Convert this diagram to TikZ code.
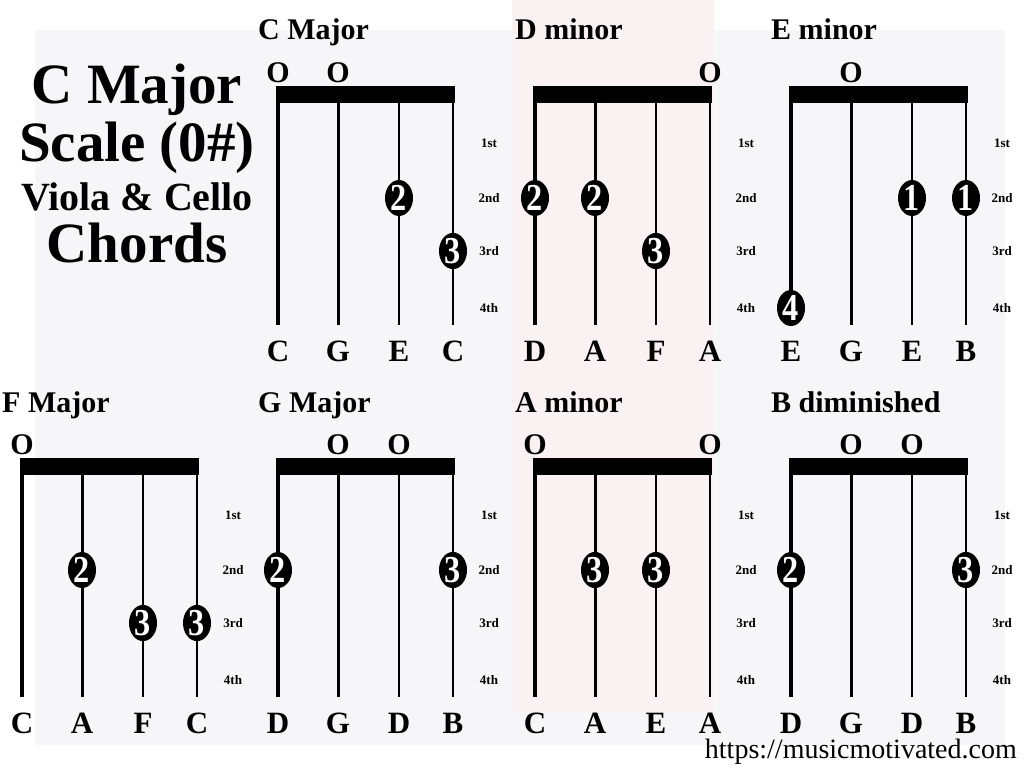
\documentclass[tikz,border=0pt]{standalone}
\usepackage{fontspec}
\setmainfont{Liberation Serif}
\usetikzlibrary{shapes.geometric}
\definecolor{wmgray}{RGB}{246,246,248}
\definecolor{wmpink}{RGB}{250,241,243}
\tikzset{
 chordtitle/.style={font=\bfseries\fontsize{30}{30}\selectfont, anchor=base west, inner sep=0},
 opennote/.style={font=\bfseries\fontsize{30}{30}\selectfont, anchor=base, inner sep=0},
 strname/.style={font=\bfseries\fontsize{31}{31}\selectfont, anchor=base, inner sep=0},
 fretlabel/.style={font=\bfseries\fontsize{13}{13}\selectfont, inner sep=0},
 nutbar/.style={fill=black, inner sep=0, minimum width=179.5pt, minimum height=17pt, anchor=north west},
 finger/.style={ellipse, fill=black, text=white, inner sep=0, minimum width=28pt, minimum height=36pt, font=\bfseries\fontsize{34}{34}\selectfont},
 bigtitle/.style={font=\bfseries\fontsize{57}{57}\selectfont, anchor=base, inner sep=0},
 urltext/.style={font=\fontsize{28}{28}\selectfont, anchor=base east, inner sep=0},
}
\newcommand\fingernum[1]{\scalebox{0.95}[1.12]{#1}}
\newcommand\chorddiag[7]{%
 \begin{scope}[shift={(#2,#3)}]
  \node[chordtitle] (#1-title) at (-20,-46) {#4};
  \node[nutbar] (#1-nut) at (-2.5,0) {};
  \foreach \i/\sx/\w in {1/0/4.5,2/60/3,3/121/2,4/175/1.5}{
   \coordinate (#1-t\i) at (\sx,17);
   \coordinate (#1-b\i) at (\sx,239);
   \draw[line width=\w pt] (#1-t\i) -- (#1-b\i);
  }
  \foreach \f/\fy/\lab in {1/57/1st,2/112/2nd,3/165/3rd,4/222/4th}{
   \coordinate (#1-f\f) at (211,\fy);
   \node[fretlabel] (#1-l\f) at (#1-f\f) {\lab};
  }
  \foreach \s in {#5}{
   \node[opennote] (#1-o\s) at ([yshift=20.5pt]#1-t\s) {O};
  }
  \foreach \s/\f/\n in {#6}{
   \node[finger] (#1-p\s) at (#1-t\s |- #1-f\f) {\fingernum{\n}};
  }
  \foreach \s/\n in {#7}{
   \node[strname] (#1-n\s) at ([yshift=-36pt]#1-b\s) {\n};
  }
 \end{scope}}
\begin{document}
\begin{tikzpicture}[x=1pt,y=-1pt]
 \useasboundingbox[fill=white] (0,0) rectangle (1024,768);
 \fill[wmgray] (35,30) rectangle (1005,745);
 \fill[wmpink] (512,0) rectangle (714,712);
 \node[bigtitle] (t1) at (137,103) {C Major};
 \node[bigtitle] (t2) at (137,161) {Scale (0\#)};
 \node[bigtitle, font=\bfseries\fontsize{40}{40}\selectfont] (t3) at (137,210) {Viola \& Cello};
 \node[bigtitle] (t4) at (137,262) {Chords};
 \chorddiag{cmaj}{278}{86}{C Major}{1,2}{3/2/2,4/3/3}{1/C,2/G,3/E,4/C}
 \chorddiag{dmin}{535}{86}{D minor}{4}{1/2/2,2/2/2,3/3/3}{1/D,2/A,3/F,4/A}
 \chorddiag{emin}{791}{86}{E minor}{2}{3/2/1,4/2/1,1/4/4}{1/E,2/G,3/E,4/B}
 \chorddiag{fmaj}{22}{458}{F Major}{1}{2/2/2,3/3/3,4/3/3}{1/C,2/A,3/F,4/C}
 \chorddiag{gmaj}{278}{458}{G Major}{2,3}{1/2/2,4/2/3}{1/D,2/G,3/D,4/B}
 \chorddiag{amin}{535}{458}{A minor}{1,4}{2/2/3,3/2/3}{1/C,2/A,3/E,4/A}
 \chorddiag{bdim}{791}{458}{B diminished}{2,3}{1/2/2,4/2/3}{1/D,2/G,3/D,4/B}
 \node[urltext] (url) at (1017,758) {https://musicmotivated.com};
\end{tikzpicture}
\end{document}
